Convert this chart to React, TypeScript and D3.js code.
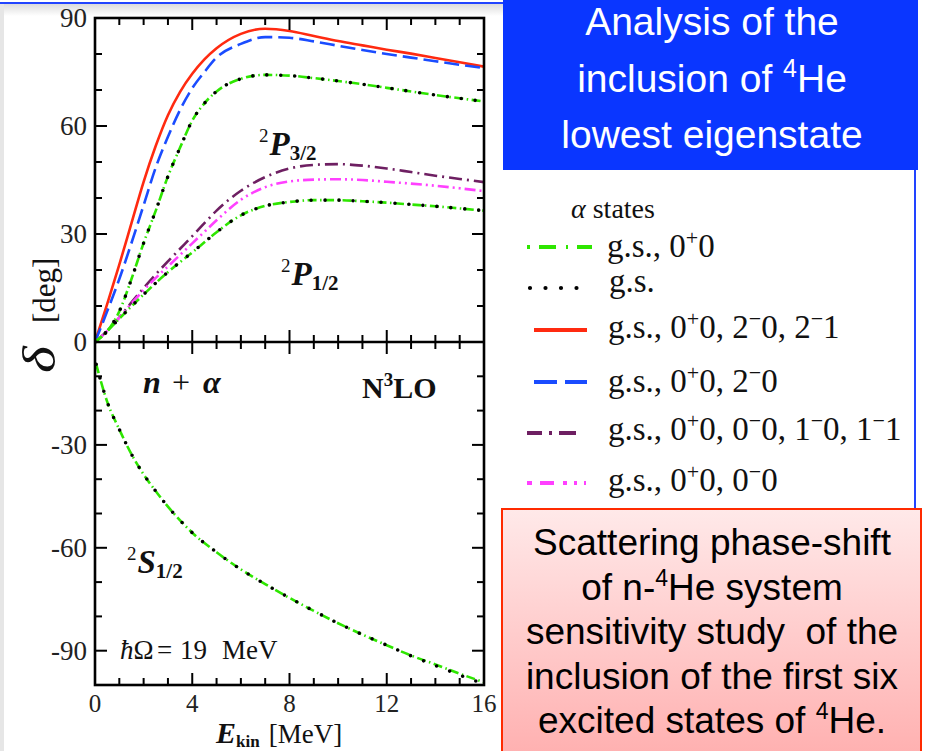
import React from "react";
import * as d3 from "d3";

// ---------------- data ----------------
const energies = [0, 0.5, 1, 1.5, 2, 2.5, 3, 3.5, 4, 4.5, 5, 6, 7, 8, 9, 10, 11, 12, 13, 14, 15, 16];

// 2P3/2 channel
const p32_gs0p0_2m0_2m1 = [0, 10.5, 21.5, 33, 44.5, 54.5, 63, 69.5, 74.5, 78.5, 81.6, 85.6, 87, 86.4, 85, 83.6, 82.4, 81.2, 80.1, 78.9, 77.7, 76.5];
const p32_gs0p0_2m0 = [0, 8.5, 17.5, 27.5, 38, 48.5, 57, 64.5, 70.5, 75, 79, 82.8, 84.7, 84.5, 83.5, 82.3, 81.1, 80, 79, 78, 77, 76.1];
const p32_gs0p0 = [0, 3, 8.5, 17.5, 27.5, 36.5, 46, 54, 61.5, 66.3, 69.6, 73.1, 74.2, 74, 73.3, 72.5, 71.6, 70.6, 69.6, 68.6, 67.7, 66.8];
const p32_gs = [0, 3, 8.5, 17.5, 27.5, 36.5, 46, 54, 61.5, 66.3, 69.6, 73.1, 74.2, 74, 73.3, 72.5, 71.6, 70.6, 69.6, 68.6, 67.7, 66.8];

// 2P1/2 channel
const p12_gs0p0 = [0, 3.0, 6.5, 9.9, 13.2, 16.4, 19.4, 22.2, 24.9, 27.7, 30.5, 35.2, 37.8, 38.9, 39.4, 39.4, 39.1, 38.7, 38.2, 37.7, 37.1, 36.5];
const p12_gs = [0, 3.0, 6.5, 9.9, 13.2, 16.4, 19.4, 22.2, 24.9, 27.7, 30.5, 35.2, 37.8, 38.9, 39.4, 39.4, 39.1, 38.7, 38.2, 37.7, 37.1, 36.5];
const p12_gs0p0_0m0_1m0_1m1 = [0, 3.1, 6.8, 11, 15, 18.8, 22.4, 25.9, 29.4, 33, 36.5, 42, 45.8, 48.2, 49.2, 49.4, 49, 48.2, 47.2, 46.2, 45.3, 44.4];
const p12_gs0p0_0m0 = [0, 3.1, 6.8, 10.7, 14.4, 17.8, 21, 24.2, 27.4, 30.6, 33.8, 39.5, 43, 44.6, 45.1, 45.2, 45, 44.5, 44, 43.4, 42.7, 41.9];

// 2S1/2 channel
const energiesS = [0.05, 0.5, 1, 1.5, 2, 2.5, 3, 3.5, 4, 5, 6, 7, 8, 9, 10, 11, 12, 13, 14, 15, 16];
const s12_gs0p0 = [-6.5, -17.4, -25.5, -32.7, -38.6, -43.5, -48, -52, -55.6, -61.3, -66.3, -70.6, -74.6, -78.4, -82, -85.3, -88.4, -91.4, -94, -96.7, -99.2];
const s12_gs = [-6.5, -17.4, -25.5, -32.7, -38.6, -43.5, -48, -52, -55.6, -61.3, -66.3, -70.6, -74.6, -78.4, -82, -85.3, -88.4, -91.5, -94.3, -97.1, -99.7];

const xTicks = [0, 4, 8, 12, 16];
const yTopTicks = [0, 30, 60, 90];
const yBotTicks = [-30, -60, -90];

const legendTitle = "α states";
const legendLabels = [
  "g.s., 0^+0",
  "g.s.",
  "g.s., 0^+0, 2^−0, 2^−1",
  "g.s., 0^+0, 2^−0",
  "g.s., 0^+0, 0^−0, 1^−0, 1^−1",
  "g.s., 0^+0, 0^−0",
];

const titleLines = ["Analysis of the", "inclusion of ^4He", "lowest eigenstate"];
const noteLines = [
  "Scattering phase-shift",
  "of n-^4He system",
  "sensitivity study\u00a0 of the",
  "inclusion of the first six",
  "excited states of ^4He.",
];

// ---------------- styles ----------------
const GREEN = "#2ee600";
const RED = "#ff2a10";
const BLUE = "#1a4cff";
const PURPLE = "#6e1f62";
const MAGENTA = "#ff40ff";
const SERIF = "'Liberation Serif', 'DejaVu Serif', serif";
const SANS = "'Liberation Sans', Arial, sans-serif";

const X0 = 95, X1 = 484, YT = 18, YM = 342, YB = 685;

function Sup({ text, size, supSize, shift }: { text: string; size: number; supSize: number; shift: number }) {
  const out: React.ReactNode[] = [];
  let buf = "";
  let k = 0;
  let pendingDown = false;
  for (let i = 0; i < text.length; i++) {
    if (text[i] === "^") {
      if (buf) {
        out.push(<tspan key={k++} fontSize={size} dy={pendingDown ? shift : 0}>{buf}</tspan>);
        pendingDown = false;
        buf = "";
      }
      out.push(<tspan key={k++} fontSize={supSize} dy={pendingDown ? 0 : -shift}>{text[i + 1]}</tspan>);
      pendingDown = true;
      i++;
    } else buf += text[i];
  }
  if (buf) out.push(<tspan key={k++} fontSize={size} dy={pendingDown ? shift : 0}>{buf}</tspan>);
  return <>{out}</>;
}

export default function App() {
  const x = d3.scaleLinear().domain([0, 16]).range([X0, X1]);
  const yTop = d3.scaleLinear().domain([0, 90]).range([YM, YT]);
  const yBot = d3.scaleLinear().domain([-100, 0]).range([YB, YM]);

  const lineTop = d3.line<number>().x((_, i) => x(energies[i])).y((v) => yTop(v)).curve(d3.curveMonotoneX);
  const lineBot = d3.line<number>().x((_, i) => x(energiesS[i])).y((v) => yBot(v)).curve(d3.curveMonotoneX);

  const greenDash = "9 3.5 1.5 3.5";
  const series = [
    { d: lineTop(p32_gs0p0_2m0_2m1), color: RED, dash: undefined, w: 2.6, cap: "butt" },
    { d: lineTop(p32_gs0p0_2m0), color: BLUE, dash: "15 6", w: 2.6, cap: "butt" },
    { d: lineTop(p12_gs0p0_0m0_1m0_1m1), color: PURPLE, dash: "13 5 2 5", w: 2.6, cap: "butt" },
    { d: lineTop(p12_gs0p0_0m0), color: MAGENTA, dash: "11 4 2 4 2 4", w: 2.6, cap: "butt" },
    { d: lineTop(p32_gs0p0), color: GREEN, dash: greenDash, w: 2.6, cap: "butt" },
    { d: lineTop(p12_gs0p0), color: GREEN, dash: greenDash, w: 2.6, cap: "butt" },
    { d: lineBot(s12_gs0p0), color: GREEN, dash: greenDash, w: 2.6, cap: "butt" },
    { d: lineTop(p32_gs), color: "#000", dash: "0 14", w: 3.6, cap: "round" },
    { d: lineTop(p12_gs), color: "#000", dash: "0 14", w: 3.6, cap: "round" },
    { d: lineBot(s12_gs), color: "#000", dash: "0 14", w: 3.6, cap: "round" },
  ];

  const ticks: React.ReactNode[] = [];
  let tk = 0;
  const MAJ = 12, MIN = 7;
  for (const e of d3.range(1, 16)) {
    const L = e % 4 === 0 ? MAJ : MIN;
    const xx = x(e);
    ticks.push(<line key={tk++} x1={xx} x2={xx} y1={YT} y2={YT + L} />);
    ticks.push(<line key={tk++} x1={xx} x2={xx} y1={YM - L} y2={YM + L} />);
    ticks.push(<line key={tk++} x1={xx} x2={xx} y1={YB} y2={YB - L} />);
  }
  for (const v of d3.range(10, 90, 10)) {
    const L = v % 30 === 0 ? MAJ : MIN;
    const yy = yTop(v);
    ticks.push(<line key={tk++} x1={X0} x2={X0 + L} y1={yy} y2={yy} />);
    ticks.push(<line key={tk++} x1={X1} x2={X1 - L} y1={yy} y2={yy} />);
  }
  for (const v of d3.range(-90, 0, 10)) {
    const L = v % 30 === 0 ? MAJ : MIN;
    const yy = yBot(v);
    ticks.push(<line key={tk++} x1={X0} x2={X0 + L} y1={yy} y2={yy} />);
    ticks.push(<line key={tk++} x1={X1} x2={X1 - L} y1={yy} y2={yy} />);
  }

  const legendRowsY = [247, 288, 330, 382, 433, 483];
  const legendTextY = [257, 292, 338, 392, 440, 491];
  const legendTextX = [607, 609, 608, 608, 608, 608];
  const legendSamples = [
    { x1: 527, x2: 592, color: GREEN, dash: "3 9 17 10 2 9 17", w: 4, cap: "butt" },
    { x1: 530, x2: 580, color: "#000", dash: "0 15.5", w: 4.2, cap: "round" },
    { x1: 534, x2: 587, color: RED, dash: undefined, w: 4, cap: "butt" },
    { x1: 534, x2: 587, color: BLUE, dash: "23 8", w: 4, cap: "butt" },
    { x1: 527, x2: 579, color: PURPLE, dash: "15 7 3 7 17", w: 4, cap: "butt" },
    { x1: 527, x2: 588, color: MAGENTA, dash: "5 8 14 9 4 7 3 7 2", w: 4, cap: "butt" },
  ];

  return (
    <svg width={932} height={751} style={{ position: "absolute", left: 0, top: 0, background: "#fff" }}>
      <defs>
        <linearGradient id="noteGrad" x1="0" y1="0" x2="0" y2="1">
          <stop offset="0" stopColor="#ffe9e9" />
          <stop offset="1" stopColor="#ffadad" />
        </linearGradient>
        <linearGradient id="topStrip" x1="0" y1="0" x2="0" y2="1">
          <stop offset="0" stopColor="#dcdcdc" />
          <stop offset="1" stopColor="#ffffff" />
        </linearGradient>
        <clipPath id="plotClip">
          <rect x={X0} y={YT} width={X1 - X0} height={YB - YT} />
        </clipPath>
      </defs>
      <rect x={0} y={0} width={932} height={751} fill="#fff" />
      {/* slide decorations */}
      <rect x={0} y={4} width={503} height={12} fill="url(#topStrip)" />
      <rect x={0} y={4} width={4} height={747} fill="#e6e6e6" />
      <line x1={0} x2={503} y1={3} y2={3} stroke="#2244ff" strokeWidth={2} />
      <line x1={915} x2={915} y1={168} y2={510} stroke="#2244ff" strokeWidth={2} />

      {/* curves */}
      <g clipPath="url(#plotClip)">
        {series.map((s, i) => (
          <path key={i} d={s.d || ""} fill="none" stroke={s.color} strokeWidth={s.w} strokeDasharray={s.dash} strokeLinecap={s.cap as any} />
        ))}
      </g>

      {/* frame and ticks */}
      <g stroke="#000" strokeWidth={2} fill="none">
        {ticks}
      </g>
      <rect x={X0} y={YT} width={X1 - X0} height={YB - YT} fill="none" stroke="#000" strokeWidth={2.6} />
      <line x1={X0} x2={X1} y1={YM} y2={YM} stroke="#000" strokeWidth={2.6} />

      {/* tick labels */}
      <g fontFamily={SERIF} fontSize={27} fill="#222">
        {yTopTicks.map((v) => (
          <text key={"yt" + v} x={X0 - 8} y={yTop(v)} textAnchor="end" dominantBaseline="central">{v}</text>
        ))}
        {yBotTicks.map((v) => (
          <text key={"yb" + v} x={X0 - 8} y={yBot(v)} textAnchor="end" dominantBaseline="central">{v}</text>
        ))}
        {xTicks.map((v) => (
          <text key={"x" + v} x={x(v)} y={712} fontSize={25} textAnchor="middle">{v}</text>
        ))}
      </g>

      {/* axis titles */}
      <g fontFamily={SERIF} fill="#111">
        <text transform="translate(55,373) rotate(-90) scale(1.25,1)" fontSize={46} fontStyle="italic">δ</text>
        <text transform="translate(55,323) rotate(-90)" fontSize={31}>[deg]</text>
        <text x={216} y={743}>
          <tspan fontSize={30} fontWeight="bold" fontStyle="italic">E</tspan>
          <tspan fontSize={17} fontWeight="bold" dy={4}>kin</tspan>
          <tspan fontSize={27} dy={-4} dx={9}>[MeV]</tspan>
        </text>
      </g>

      {/* annotations */}
      <g fontFamily={SERIF} fill="#111">
        <text x={259} y={155}>
          <tspan fontSize={19} dy={-13}>2</tspan>
          <tspan fontSize={33} fontWeight="bold" fontStyle="italic" dy={13} dx={1}>P</tspan>
          <tspan fontSize={21} fontWeight="bold" dy={5}>3/2</tspan>
        </text>
        <text x={281} y={285}>
          <tspan fontSize={19} dy={-13}>2</tspan>
          <tspan fontSize={33} fontWeight="bold" fontStyle="italic" dy={13} dx={1}>P</tspan>
          <tspan fontSize={21} fontWeight="bold" dy={5}>1/2</tspan>
        </text>
        <text y={393} fontSize={32} fontWeight="bold">
          <tspan x={143} fontStyle="italic">n</tspan>
          <tspan x={172} fontWeight="normal">+</tspan>
          <tspan x={203} fontStyle="italic">α</tspan>
        </text>
        <text x={362} y={398} fontSize={30} fontWeight="bold">
          <tspan>N</tspan>
          <tspan fontSize={19} dy={-12}>3</tspan>
          <tspan dy={12}>LO</tspan>
        </text>
        <text x={127} y={573}>
          <tspan fontSize={19} dy={-13}>2</tspan>
          <tspan fontSize={33} fontWeight="bold" fontStyle="italic" dy={13} dx={1}>S</tspan>
          <tspan fontSize={21} fontWeight="bold" dy={5}>1/2</tspan>
        </text>
        <text y={659} fontSize={27}>
          <tspan x={120} fontStyle="italic">ħ</tspan>
          <tspan>Ω</tspan>
          <tspan x={157}>=</tspan>
          <tspan x={180}>19</tspan>
          <tspan x={222}>MeV</tspan>
        </text>
      </g>

      {/* legend */}
      <g fontFamily={SERIF} fill="#111">
        <text x={571} y={218} fontSize={28}>
          <tspan fontStyle="italic">{legendTitle.slice(0, 1)}</tspan>
          <tspan>{legendTitle.slice(1)}</tspan>
        </text>
        {legendSamples.map((s, i) => (
          <line key={"ls" + i} x1={s.x1} x2={s.x2} y1={legendRowsY[i]} y2={legendRowsY[i]} stroke={s.color} strokeWidth={s.w} strokeDasharray={s.dash} strokeLinecap={s.cap as any} />
        ))}
        {legendLabels.map((t, i) => (
          <text key={"lt" + i} x={legendTextX[i]} y={legendTextY[i]}>
            <Sup text={t} size={33} supSize={22} shift={12} />
          </text>
        ))}
      </g>

      {/* title box */}
      <rect x={503} y={-2} width={415} height={172} fill="#0a36ff" />
      <g fontFamily={SANS} fill="#fff" textAnchor="middle">
        {titleLines.map((t, i) => (
          <text key={"tl" + i} x={712} y={35 + i * 56.5}>
            <Sup text={t} size={39} supSize={25} shift={15} />
          </text>
        ))}
      </g>

      {/* note box */}
      <rect x={502} y={509} width={419} height={260} fill="url(#noteGrad)" stroke="#ff2a00" strokeWidth={2} />
      <g fontFamily={SANS} fill="#000" textAnchor="middle">
        {noteLines.map((t, i) => (
          <text key={"nl" + i} x={712} y={555 + i * 44.6}>
            <Sup text={t} size={37} supSize={23} shift={14} />
          </text>
        ))}
      </g>
    </svg>
  );
}
